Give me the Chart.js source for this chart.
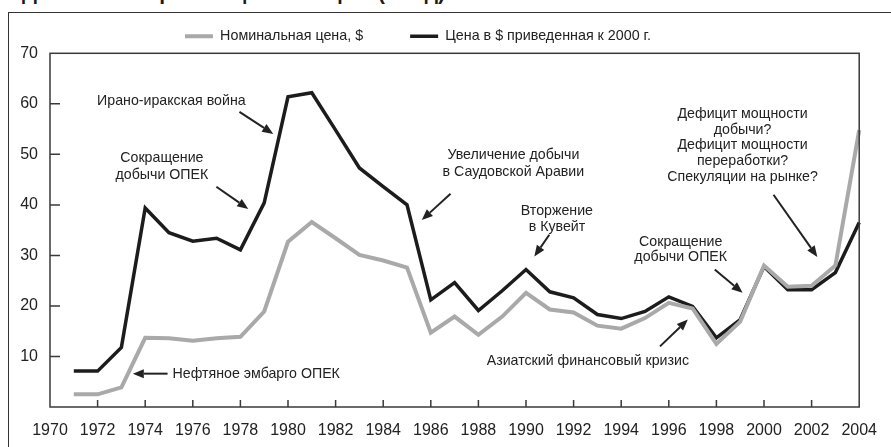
<!DOCTYPE html>
<html>
<head>
<meta charset="utf-8">
<script src="https://cdn.jsdelivr.net/npm/chart.js@4.4.1/dist/chart.umd.min.js"></script>
<style>
  html, body { margin: 0; padding: 0; background: #fff; }
  #wrap { position: relative; width: 891px; height: 447px; overflow: hidden; }
  #title { position: absolute; left: 22px; top: -16px; font: bold 21px "Liberation Sans", Arial, sans-serif; line-height: 18px; color: #1a1a1a; white-space: nowrap; }
  #frame { position: absolute; left: 8px; top: 12px; width: 900px; height: 460px; border-left: 1.5px solid #333; border-top: 1.5px solid #333; }
  #chart { position: absolute; left: 0; top: 0; }
</style>
</head>
<body>
<div id="wrap">
  <div id="title">Динамика мировых цен на нефть (в год)</div>
  <div id="frame"></div>
  <canvas id="chart" width="891" height="447"></canvas>
</div>
<script>
const years = [1971, 1972, 1973, 1974, 1975, 1976, 1977, 1978, 1979, 1980,
               1981, 1982, 1983, 1984, 1985, 1986, 1987, 1988, 1989, 1990,
               1991, 1992, 1993, 1994, 1995, 1996, 1997, 1998, 1999, 2000,
               2001, 2002, 2003, 2004];
// номинальная цена, $
const nominal = [2.5, 2.5, 3.9, 13.7, 13.6, 13.1, 13.6, 13.9, 18.9, 32.7,
                 36.6, 33.4, 30.1, 29.0, 27.6, 14.7, 17.9, 14.3, 17.9, 22.6,
                 19.3, 18.7, 16.1, 15.5, 17.6, 20.6, 19.5, 12.5, 16.9, 28.0,
                 23.8, 24.0, 28.0, 54.8];
// цена в $ 2000 г.
const real2000 = [7.1, 7.1, 11.8, 39.4, 34.5, 32.8, 33.4, 31.1, 40.4, 61.4,
                  62.2, 54.8, 47.3, 43.6, 40.0, 21.2, 24.6, 19.1, 23.0, 27.2,
                  22.8, 21.6, 18.3, 17.5, 18.9, 21.8, 19.9, 13.7, 17.3, 27.8,
                  23.2, 23.2, 26.6, 36.5];
const seriesNames = ['Номинальная цена, $', 'Цена в $ приведенная к 2000 г.'];
const xTickYears = [1970, 1972, 1974, 1976, 1978, 1980, 1982, 1984, 1986, 1988,
                    1990, 1992, 1994, 1996, 1998, 2000, 2002, 2004];
const yTickValues = [0, 10, 20, 30, 40, 50, 60, 70];

// подписи событий: точка текста и стрелка в координатах данных (год, $)
const notes = [
  { lines: ['Ирано-иракская война'], x: 1975.1, y: 60.6, arrow: [1977.96, 58.4, 1979.38, 54.05] },
  { lines: ['Сокращение', 'добычи ОПЕК'], x: 1974.7, y: 49.3, lh: 17, arrow: [1976.99, 43.6, 1978.33, 39.2] },
  { lines: ['Нефтяное эмбарго ОПЕК'], x: 1975.15, y: 6.6, align: 'left', arrow: [1974.94, 6.6, 1973.48, 6.6] },
  { lines: ['Увеличение добычи', 'в Саудовской Аравии'], x: 1989.47, y: 49.9, lh: 17, arrow: [1986.83, 42.2, 1985.62, 37.0] },
  { lines: ['Вторжение', 'в Кувейт'], x: 1991.3, y: 38.8, lh: 16, arrow: [1990.98, 34.1, 1990.35, 29.8] },
  { lines: ['Азиатский финансовый кризис'], x: 1992.6, y: 9.0, arrow: [1995.63, 12.0, 1996.8, 17.3] },
  { lines: ['Сокращение', 'добычи ОПЕК'], x: 1996.5, y: 32.7, lh: 15.5, arrow: [1997.93, 27.2, 1999.1, 22.6] },
  { lines: ['Дефицит мощности', 'добычи?', 'Дефицит мощности', 'переработки?', 'Спекуляции на рынке?'],
    x: 1999.1, y: 58.0, lh: 15.8, arrow: [2000.4, 42.0, 2002.24, 29.7] }
];

const FONT = '"Liberation Sans", Arial, sans-serif';

function arrow(ctx, x0, y0, x1, y1) {
  const ang = Math.atan2(y1 - y0, x1 - x0);
  const len = 11, half = 4.5;
  const bx = x1 - Math.cos(ang) * len, by = y1 - Math.sin(ang) * len;
  ctx.lineWidth = 2;
  ctx.beginPath();
  ctx.moveTo(x0, y0);
  ctx.lineTo(bx, by);
  ctx.stroke();
  ctx.beginPath();
  ctx.moveTo(x1, y1);
  ctx.lineTo(bx + Math.sin(ang) * half, by - Math.cos(ang) * half);
  ctx.lineTo(bx - Math.sin(ang) * half, by + Math.cos(ang) * half);
  ctx.closePath();
  ctx.fill();
}

const overlay = {
  id: 'overlay',
  afterDatasetsDraw(chart) {
    const { ctx, chartArea: a, scales: { x, y } } = chart;
    ctx.save();
    ctx.strokeStyle = '#3a3a3a';
    ctx.lineWidth = 1.5;
    ctx.strokeRect(a.left, a.top, a.right - a.left, a.bottom - a.top);
    // засечки внутрь
    ctx.beginPath();
    xTickYears.forEach(v => {
      if (v > x.min && v < x.max) {
        const px = x.getPixelForValue(v);
        ctx.moveTo(px, a.bottom);
        ctx.lineTo(px, a.bottom - 7);
      }
    });
    yTickValues.forEach(v => {
      if (v > y.min && v < y.max) {
        const py = y.getPixelForValue(v);
        ctx.moveTo(a.left, py);
        ctx.lineTo(a.left + 10, py);
      }
    });
    ctx.stroke();

    ctx.fillStyle = '#222';
    ctx.strokeStyle = '#222';
    ctx.font = '14.2px ' + FONT;
    ctx.textBaseline = 'middle';
    notes.forEach(n => {
      ctx.textAlign = n.align || 'center';
      const tx = x.getPixelForValue(n.x), ty = y.getPixelForValue(n.y);
      n.lines.forEach((t, i) => ctx.fillText(t, tx, ty + i * (n.lh || 16)));
      const [x0, y0, x1, y1] = n.arrow;
      arrow(ctx, x.getPixelForValue(x0), y.getPixelForValue(y0),
                 x.getPixelForValue(x1), y.getPixelForValue(y1));
    });
    ctx.restore();
  }
};

const data = {
  datasets: [{
    label: seriesNames[0],
    data: years.map((yr, i) => ({ x: yr, y: nominal[i] })),
    borderColor: '#a9a9a9',
    backgroundColor: '#a9a9a9',
    borderWidth: 4,
    pointRadius: 0,
    borderJoinStyle: 'miter',
    clip: false
  }, {
    label: seriesNames[1],
    data: years.map((yr, i) => ({ x: yr, y: real2000[i] })),
    borderColor: '#1c1c1c',
    backgroundColor: '#1c1c1c',
    borderWidth: 3.5,
    pointRadius: 0,
    borderJoinStyle: 'miter',
    clip: false
  }]
};

const config = {
  type: 'line',
  data: data,
  options: {
    responsive: false,
    animation: false,
    devicePixelRatio: 1,
    // отрицательные отступы сдвигают легенду влево, оставляя область графика на месте
    layout: { padding: { top: -18, left: -26, right: 29, bottom: 0 } },
    plugins: {
      legend: {
        position: 'top',
        labels: {
          usePointStyle: true,
          pointStyle: 'line',
          pointStyleWidth: 28,
          padding: 47,
          color: '#222',
          font: { family: FONT, size: 14.3 }
        }
      },
      tooltip: { enabled: false }
    },
    scales: {
      x: {
        type: 'linear',
        min: 1970,
        max: 2004,
        afterBuildTicks: s => { s.ticks = xTickYears.map(v => ({ value: v })); },
        afterFit: s => { s.height = 40; },
        grid: { display: false, drawTicks: false },
        border: { display: false },
        ticks: {
          padding: 14,
          color: '#222',
          font: { family: FONT, size: 16 },
          callback: v => String(v)
        }
      },
      y: {
        min: 0,
        max: 70,
        afterBuildTicks: s => { s.ticks = yTickValues.map(v => ({ value: v })); },
        afterFit: s => { s.width = 76; },
        grid: { display: false, drawTicks: false },
        border: { display: false },
        ticks: {
          padding: 12,
          color: '#222',
          font: { family: FONT, size: 16 },
          callback: v => (v === 0 ? '' : String(v))
        }
      }
    }
  },
  plugins: [overlay]
};

const myChart = new Chart(document.getElementById('chart'), config);
</script>
</body>
</html>
